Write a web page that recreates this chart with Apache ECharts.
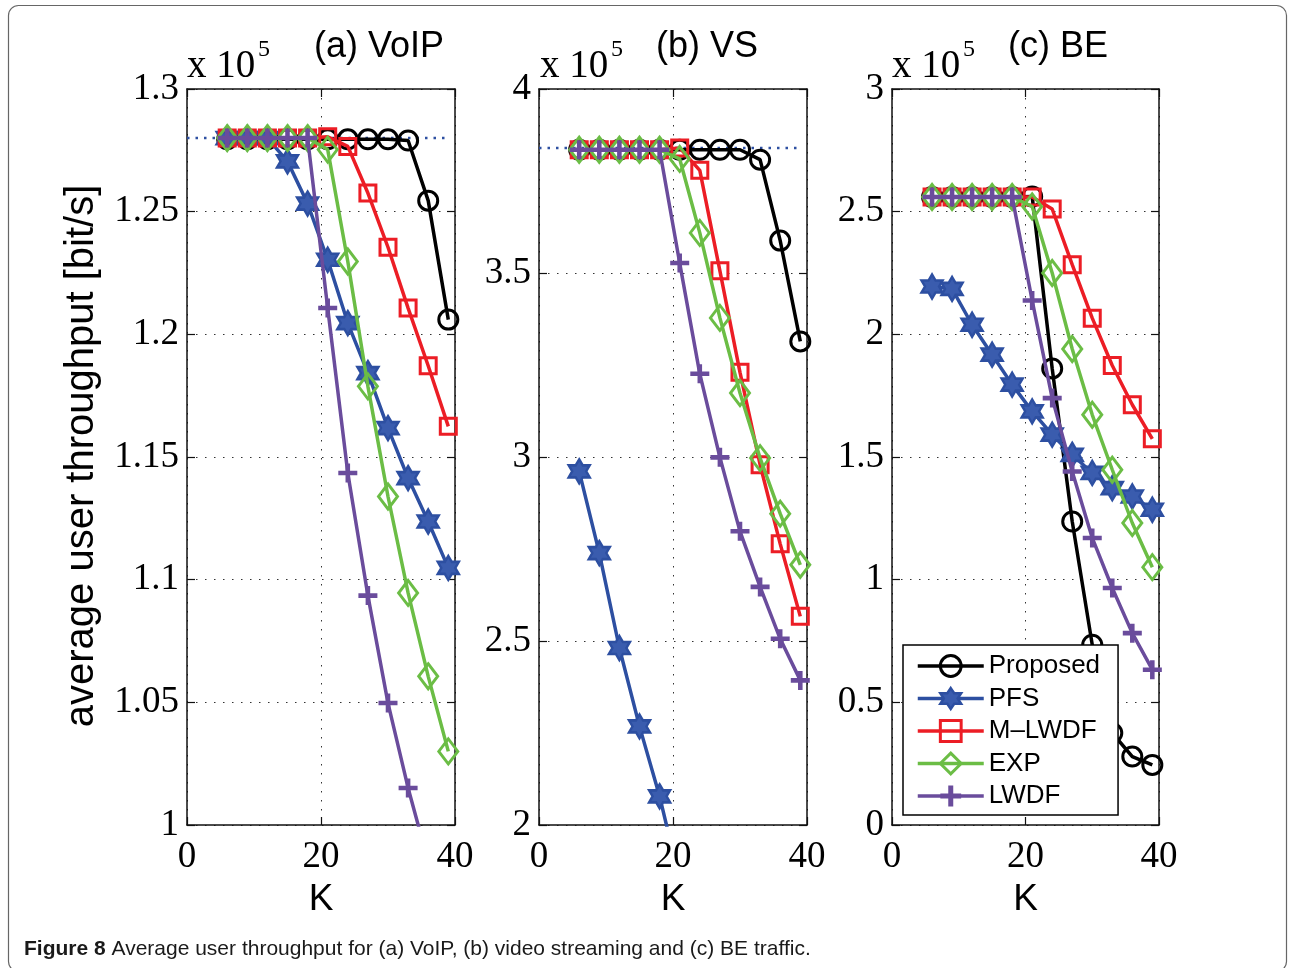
<!DOCTYPE html>
<html>
<head>
<meta charset="utf-8">
<script src="https://cdn.jsdelivr.net/npm/echarts@6/dist/echarts.min.js"></script>
<style>
  html, body { margin: 0; padding: 0; background: #fff; }
  #chart { width: 1291px; height: 968px; }
</style>
</head>
<body>
<div id="chart"></div>
<script>
// Number of users K
const K = [6, 9, 12, 15, 18, 21, 24, 27, 30, 33, 36, 39];

// (a) VoIP average user throughput, x 10^5 bit/s
const voipProposed = [1.2795, 1.2795, 1.2795, 1.2795, 1.2795, 1.2795, 1.2795, 1.2795, 1.2795, 1.279, 1.2545, 1.206];
const voipPFS      = [1.28, 1.28, 1.28, 1.2705, 1.2533, 1.2304, 1.2046, 1.1842, 1.1618, 1.1414, 1.1237, 1.1048];
const voipMLWDF    = [1.28, 1.28, 1.28, 1.28, 1.28, 1.2805, 1.2766, 1.2576, 1.2355, 1.2107, 1.1872, 1.1625];
const voipEXP      = [1.28, 1.28, 1.28, 1.28, 1.28, 1.2753, 1.2297, 1.1788, 1.1339, 1.0946, 1.0606, 1.030];
const voipLWDF     = [1.28, 1.28, 1.28, 1.28, 1.28, 1.2107, 1.1435, 1.0935, 1.0497, 1.0151, 0.985, null];
const voipCap = 1.28;

// (b) video streaming average user throughput, x 10^5 bit/s
const vsProposed = [3.835, 3.835, 3.835, 3.835, 3.835, 3.835, 3.835, 3.835, 3.835, 3.808, 3.588, 3.314];
const vsPFS      = [2.961, 2.739, 2.481, 2.268, 2.078, 1.85, null, null, null, null, null, null];
const vsMLWDF    = [3.835, 3.835, 3.835, 3.835, 3.835, 3.84, 3.779, 3.506, 3.23, 2.979, 2.764, 2.567];
const vsEXP      = [3.835, 3.835, 3.835, 3.835, 3.835, 3.81, 3.609, 3.378, 3.174, 2.997, 2.846, 2.707];
const vsLWDF     = [3.835, 3.835, 3.835, 3.835, 3.835, 3.527, 3.226, 2.999, 2.798, 2.647, 2.506, 2.393];
const vsCap = 3.84;

// (c) best-effort average user throughput, x 10^5 bit/s
const beProposed = [2.56, 2.56, 2.56, 2.56, 2.56, 2.562, 1.861, 1.237, 0.735, 0.375, 0.279, 0.245];
const bePFS      = [2.195, 2.185, 2.039, 1.917, 1.795, 1.686, 1.591, 1.509, 1.435, 1.373, 1.339, 1.285];
const beMLWDF    = [2.56, 2.56, 2.56, 2.56, 2.56, 2.56, 2.511, 2.284, 2.066, 1.873, 1.713, 1.574];
const beEXP      = [2.56, 2.56, 2.56, 2.56, 2.56, 2.521, 2.25, 1.94, 1.672, 1.448, 1.231, 1.051];
const beLWDF     = [2.56, 2.56, 2.56, 2.56, 2.56, 2.138, 1.74, 1.441, 1.170, 0.966, 0.782, 0.633];

const schemeNames = ['Proposed', 'PFS', 'M\u2013LWDF', 'EXP', 'LWDF'];
const panelTitles = ['(a) VoIP', '(b) VS', '(c) BE'];
const xTicks = { min: 0, max: 40, interval: 20 };
const yTicks = [
  { min: 1, max: 1.3, interval: 0.05 },
  { min: 2, max: 4, interval: 0.5 },
  { min: 0, max: 3, interval: 0.5 }
];
const panelData = [
  [voipProposed, voipPFS, voipMLWDF, voipEXP, voipLWDF],
  [vsProposed, vsPFS, vsMLWDF, vsEXP, vsLWDF],
  [beProposed, bePFS, beMLWDF, beEXP, beLWDF]
];
const panelCaps = [voipCap, vsCap, null];

const SERIF = '"Liberation Serif", "Times New Roman", serif';
const SANS = '"Liberation Sans", Arial, sans-serif';

const HEXAGRAM = 'path://M0,-10L2.887,-5L8.66,-5L5.774,0L8.66,5L2.887,5L0,10L-2.887,5L-8.66,5L-5.774,0L-8.66,-5L-2.887,-5Z';
const PLUS = 'path://M7.6,0H12.4V7.6H20V12.4H12.4V20H7.6V12.4H0V7.6H7.6Z';

const markers = [
  { symbol: 'circle', size: 19, color: '#000000', fill: 'rgba(0,0,0,0)', border: 3 },
  { symbol: HEXAGRAM, size: [21, 24], color: '#2d4fa1', fill: '#3a5cae', border: 2.5 },
  { symbol: 'rect', size: 16, color: '#ec1d25', fill: 'rgba(0,0,0,0)', border: 3 },
  { symbol: 'diamond', size: [19, 25], color: '#6bbd45', fill: 'rgba(0,0,0,0)', border: 3 },
  { symbol: PLUS, size: 19, color: '#6a4c9c', fill: '#6a4c9c', border: 0 }
];

const grids = [
  { left: 187, top: 89, width: 268, height: 736 },
  { left: 539, top: 89, width: 268, height: 736 },
  { left: 892, top: 89, width: 267, height: 736 }
];

const fmt = v => String(Math.round(v * 100) / 100);
const gridDots = { show: true, lineStyle: { color: '#333', width: 1, type: [1.5, 7.5] } };
const frameLine = { show: true, onZero: false, lineStyle: { color: '#111', width: 1.5 } };
const inTick = { show: true, inside: true, length: 8, lineStyle: { color: '#111', width: 1.2 } };

const xAxes = [], yAxes = [], series = [];
grids.forEach((g, p) => {
  xAxes.push({
    type: 'value', gridIndex: p, position: 'bottom', ...xTicks,
    axisLine: frameLine, axisTick: inTick, splitLine: gridDots,
    axisLabel: { fontFamily: SERIF, fontSize: 37, color: '#000', margin: 14, formatter: fmt },
    name: 'K', nameLocation: 'middle', nameGap: 47,
    nameTextStyle: { fontFamily: SANS, fontSize: 37, color: '#000' }
  });
  xAxes.push({
    type: 'value', gridIndex: p, position: 'top', ...xTicks,
    axisLine: frameLine, axisTick: inTick, splitLine: { show: false }, axisLabel: { show: false }
  });
  yAxes.push({
    type: 'value', gridIndex: p, position: 'left', ...yTicks[p],
    axisLine: frameLine, axisTick: inTick, splitLine: gridDots,
    axisLabel: { fontFamily: SERIF, fontSize: 37, color: '#000', margin: 8, formatter: fmt,
                 padding: [5, 0, 0, 0] }
  });
  yAxes.push({
    type: 'value', gridIndex: p, position: 'right', ...yTicks[p],
    axisLine: frameLine, axisTick: inTick, splitLine: { show: false }, axisLabel: { show: false }
  });

  // dotted reference level
  if (panelCaps[p] !== null) {
    series.push({
      type: 'line', name: 'level' + p, xAxisIndex: 2 * p, yAxisIndex: 2 * p,
      data: [[0, panelCaps[p]], [39, panelCaps[p]]],
      symbol: 'none', silent: true, animation: false, z: 1,
      lineStyle: { color: '#2d4fa1', width: 2.5, type: [2.5, 6] }
    });
  }

  panelData[p].forEach((vals, s) => {
    const m = markers[s];
    const data = [];
    K.forEach((k, i) => { if (vals[i] !== null) data.push([k, vals[i]]); });
    series.push({
      type: 'line', name: schemeNames[s], xAxisIndex: 2 * p, yAxisIndex: 2 * p,
      data: data, symbol: m.symbol, symbolSize: m.size, showAllSymbol: true,
      clip: true, animation: false, z: 2 + s,
      lineStyle: { color: m.color, width: 3.5 },
      itemStyle: { color: m.fill, borderColor: m.color, borderWidth: m.border },
      emphasis: { disabled: true }
    });
  });
});

const legendData = schemeNames.map((n, s) => ({
  name: n,
  itemStyle: { color: markers[s].fill, borderColor: markers[s].color, borderWidth: markers[s].border },
  lineStyle: { color: markers[s].color, width: 3.5 }
}));

const graphics = [
  { type: 'rect', shape: { x: 8.5, y: 5.5, width: 1278, height: 966, r: 10 },
    style: { fill: 'none', stroke: '#666', lineWidth: 1.2 }, silent: true },
  { type: 'text', rotation: Math.PI / 2, x: 82, y: 456,
    style: { text: 'average user throughput [bit/s]', font: '40px ' + SANS, fill: '#000',
             align: 'center', verticalAlign: 'middle' } },
  { type: 'text', x: 24, y: 949,
    style: { text: '{b|Figure 8} Average user throughput for (a) VoIP, (b) video streaming and (c) BE traffic.',
             font: '21px ' + SANS, fill: '#1a1a1a', verticalAlign: 'middle',
             rich: { b: { fontWeight: 'bold', fontFamily: SANS, fontSize: 21, fill: '#1a1a1a' } } } }
];
const titleX = [379, 707, 1058];
const expX = [187, 540, 892];
grids.forEach((g, p) => {
  graphics.push({ type: 'text', x: titleX[p], y: 47,
    style: { text: panelTitles[p], font: '36px ' + SANS, fill: '#000', align: 'center', verticalAlign: 'middle' } });
  graphics.push({ type: 'text', x: expX[p], y: 67,
    style: { text: 'x 10', font: '39px ' + SERIF, fill: '#000', align: 'left', verticalAlign: 'middle' } });
  graphics.push({ type: 'text', x: expX[p] + 71, y: 50,
    style: { text: '5', font: '24px ' + SERIF, fill: '#000', align: 'left', verticalAlign: 'middle' } });
});

const chart = echarts.init(document.getElementById('chart'), null, { renderer: 'canvas' });
chart.setOption({
  animation: false,
  backgroundColor: '#fff',
  grid: grids,
  xAxis: xAxes,
  yAxis: yAxes,
  series: series,
  legend: {
    data: legendData, orient: 'vertical', left: 903, top: 645,
    padding: [8, 18, 6, 13], itemGap: 6.5, itemWidth: 66, itemHeight: 26,
    backgroundColor: '#fff', borderColor: '#000', borderWidth: 1.5, selectedMode: false,
    textStyle: { fontFamily: SANS, fontSize: 26, color: '#000' }
  },
  graphic: graphics
});
</script>
</body>
</html>
